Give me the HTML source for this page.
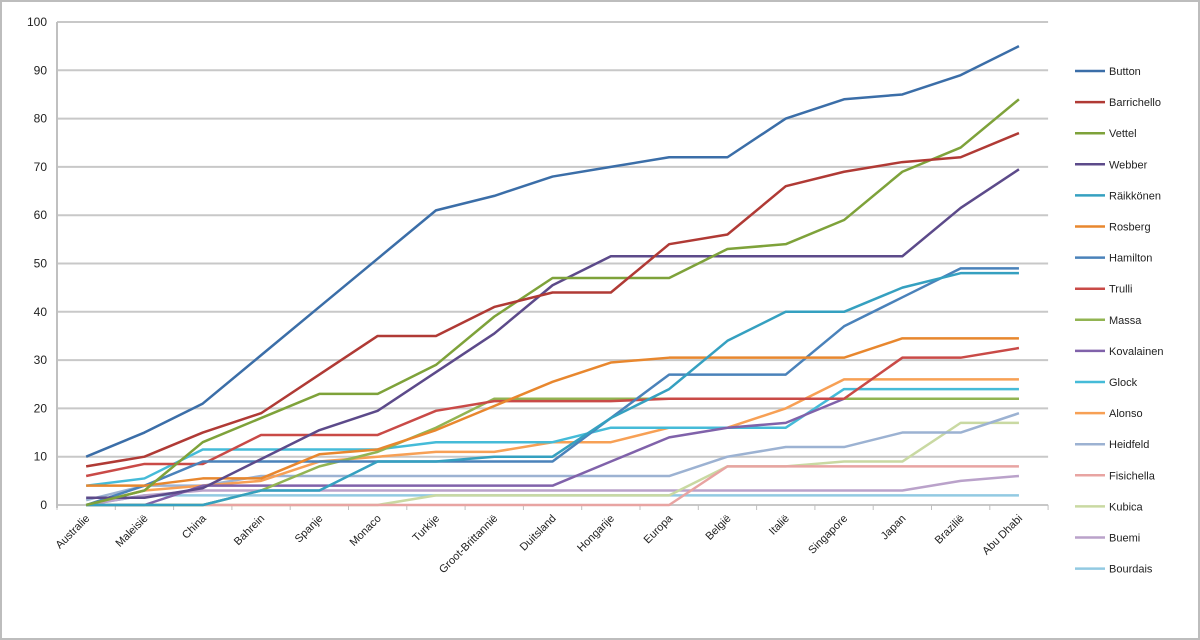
<!DOCTYPE html>
<html><head><meta charset="utf-8"><style>
body{margin:0;background:#fff;font-family:"Liberation Sans",sans-serif}
#wrap{position:relative;width:1200px;height:640px;overflow:hidden}
</style></head><body>
<div id="wrap">
<svg id="chart" width="1200" height="640"></svg>
</div>
<script>
const categories=["Australie","Maleisië","China","Bahrein","Spanje","Monaco","Turkije","Groot-Brittannië","Duitsland","Hongarije","Europa","België","Italië","Singapore","Japan","Brazilië","Abu Dhabi"];
const seriesNames=["Button","Barrichello","Vettel","Webber","Räikkönen","Rosberg","Hamilton","Trulli","Massa","Kovalainen","Glock","Alonso","Heidfeld","Fisichella","Kubica","Buemi","Bourdais"];
const seriesColors=["#3b6ea8","#b03a35","#7ea23a","#5c4a8a","#35a0c0","#e8872e","#4a82ba","#c94a47","#92b452","#8062aa","#45bbd8","#f7a055","#9cb2d2","#e8a4a2","#c9d9a2","#baa2ca","#92cae2"];
const sButton=[10,15,21,31,41,51,61,64,68,70,72,72,80,84,85,89,95];
const sBarrichello=[8,10,15,19,27,35,35,41,44,44,54,56,66,69,71,72,77];
const sVettel=[0,3,13,18,23,23,29,39,47,47,47,53,54,59,69,74,84];
const sWebber=[1.5,1.5,3.5,9.5,15.5,19.5,27.5,35.5,45.5,51.5,51.5,51.5,51.5,51.5,51.5,61.5,69.5];
const sRaikkonen=[0,0,0,3,3,9,9,10,10,18,24,34,40,40,45,48,48];
const sRosberg=[4,4,5.5,5.5,10.5,11.5,15.5,20.5,25.5,29.5,30.5,30.5,30.5,30.5,34.5,34.5,34.5];
const sHamilton=[0,4,9,9,9,9,9,9,9,18,27,27,27,37,43,49,49];
const sTrulli=[6,8.5,8.5,14.5,14.5,14.5,19.5,21.5,21.5,21.5,22,22,22,22,30.5,30.5,32.5];
const sMassa=[0,0,0,3,8,11,16,22,22,22,22,22,22,22,22,22,22];
const sKovalainen=[0,0,4,4,4,4,4,4,4,9,14,16,17,22,22,22,22];
const sGlock=[4,5.5,11.5,11.5,11.5,11.5,13,13,13,16,16,16,16,24,24,24,24];
const sAlonso=[0,3,4,5,9,10,11,11,13,13,16,16,20,26,26,26,26];
const sHeidfeld=[1,4,4,6,6,6,6,6,6,6,6,10,12,12,15,15,19];
const sFisichella=[0,0,0,0,0,0,0,0,0,0,0,8,8,8,8,8,8];
const sKubica=[0,0,0,0,0,0,2,2,2,2,2,8,8,9,9,17,17];
const sBuemi=[0,2,3,3,3,3,3,3,3,3,3,3,3,3,3,5,6];
const sBourdais=[0,2,2,2,2,2,2,2,2,2,2,2,2,2,2,2,2];
const allSeries=[sButton,sBarrichello,sVettel,sWebber,sRaikkonen,sRosberg,sHamilton,sTrulli,sMassa,sKovalainen,sGlock,sAlonso,sHeidfeld,sFisichella,sKubica,sBuemi,sBourdais];
const yTicks=[0,10,20,30,40,50,60,70,80,90,100];

const NS="http://www.w3.org/2000/svg";
const svg=document.getElementById('chart');
const X0=57,STEP=58.3,Y0=505,YS=4.83;
const xPos=i=>X0+STEP*(i+0.5);
const yPos=v=>Y0-v*YS;
function mk(t,a){const e=document.createElementNS(NS,t);for(const k in a)e.setAttribute(k,a[k]);svg.appendChild(e);return e;}

const border=mk('rect',{x:1,y:1,width:1198,height:638,fill:'none',stroke:'#bdbdbd','stroke-width':2});



yTicks.forEach(v=>{
  const g=mk('line',{x1:X0,x2:X0+STEP*17,y1:yPos(v),y2:yPos(v),stroke:'#c8c8c8','stroke-width':2});
  
  
  const t=mk('text',{x:X0-10,y:yPos(v)+4,'text-anchor':'end','font-size':12,fill:'#222'});
  t.textContent=v;
  
  
});
const ax=mk('line',{x1:X0,x2:X0,y1:yPos(100),y2:Y0+3,stroke:'#c0c0c0','stroke-width':2});


for(let i=0;i<=categories.length;i++){
  const tk=mk('line',{x1:X0+STEP*i,x2:X0+STEP*i,y1:Y0,y2:Y0+5,stroke:'#c0c0c0','stroke-width':1});
  
  
}
categories.forEach((c,i)=>{
  const x=xPos(i)+4,y=Y0+14;
  const t=mk('text',{x:x,y:y,'text-anchor':'end','font-size':11,fill:'#222',transform:`rotate(-45 ${x} ${y})`});
  t.textContent=c;
  
  
});
for(let s=allSeries.length-1;s>=0;s--){
  const pts=allSeries[s].map((v,i)=>xPos(i)+','+yPos(v)).join(' ');
  const p=mk('polyline',{points:pts,fill:'none',stroke:seriesColors[s],'stroke-width':2.5,'stroke-linejoin':'round'});
  
  
}
seriesNames.forEach((n,i)=>{
  const y=71+i*31.1;
  const l=mk('line',{x1:1075,x2:1105,y1:y,y2:y,stroke:seriesColors[i],'stroke-width':2.5});
  
  
  const t=mk('text',{x:1109,y:y+4,'font-size':11,fill:'#222'});
  t.textContent=n;
  
  
});
</script>
</body></html>
